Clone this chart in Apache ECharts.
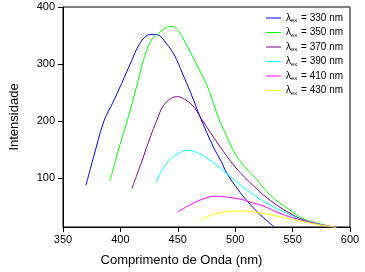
<!DOCTYPE html>
<html>
<head>
<meta charset="utf-8">
<script src="https://cdn.jsdelivr.net/npm/echarts@6/dist/echarts.min.js"></script>
<style>
  html, body { margin: 0; padding: 0; background: #fff; }
  #chart { width: 365px; height: 272px; }
</style>
</head>
<body>
<div id="chart"></div>
<script>
// excitation wavelengths (legend)
var excLabels = ['330', '350', '370', '390', '410', '430'];
var colors = ['#0000ff', '#00ff00', '#800080', '#00ffff', '#ff00ff', '#ffff00'];

// emission spectra
var wl330 = [370, 379, 386, 393, 401, 410, 416, 423, 428, 433, 440, 447, 454, 461, 470, 481, 488, 493, 503, 508, 520, 534];
var in330 = [88, 155, 202, 231, 266, 307, 333, 350, 352, 351, 336, 316, 284, 251, 205, 155, 129, 108, 79, 66, 40, 15];

var wl350 = [391, 399, 407, 414, 421, 427, 433, 437, 443, 447, 450, 457, 466, 476, 486, 493, 500, 508, 517, 531, 546, 560, 575, 588];
var in350 = [96, 155, 208, 260, 313, 342, 353, 360, 366, 365, 360, 336, 301, 260, 203, 172, 143, 121, 102, 70, 47, 29, 20, 14];

var wl370 = [410, 419, 426, 432, 437, 444, 450, 457, 464, 471, 486, 500, 517, 531, 546, 560, 575, 588];
var in370 = [82, 132, 172, 203, 226, 240, 243, 237, 225, 203, 158, 120, 85, 61, 41, 27, 19, 14];

var wl390 = [431, 440, 450, 459, 469, 480, 493, 503, 517, 531, 546, 560, 575, 588];
var in390 = [93, 126, 143, 149, 143, 129, 108, 91, 70, 53, 38, 26, 19, 14];

var wl410 = [450, 460, 472, 483, 494, 506, 517, 523, 540, 554, 570, 588];
var in410 = [41, 53, 64, 69, 67, 63, 56, 53, 38, 29, 21, 14];

var wl430 = [470, 483, 494, 506, 517, 534, 551, 570, 588];
var in430 = [28, 38, 42, 43, 41, 35, 28, 20, 14];

var xTicks = [350, 400, 450, 500, 550, 600];
var yTicks = [100, 200, 300, 400];

var wls = [wl330, wl350, wl370, wl390, wl410, wl430];
var ints = [in330, in350, in370, in390, in410, in430];

var series = [];
for (var i = 0; i < excLabels.length; i++) {
  var pts = [];
  for (var j = 0; j < wls[i].length; j++) {
    pts.push([wls[i][j], ints[i][j]]);
  }
  series.push({
    name: excLabels[i],
    type: 'line',
    data: pts,
    smooth: 0.4,
    symbol: 'none',
    clip: true,
    lineStyle: { color: colors[i], width: 1 },
    itemStyle: { color: colors[i] }
  });
}

var font = 'Liberation Sans, Arial, sans-serif';

var option = {
  animation: false,
  backgroundColor: '#fff',
  grid: {
    left: 58, right: 15, top: 7, bottom: 45,
    show: true, borderColor: '#000', borderWidth: 1
  },
  legend: {
    orient: 'vertical',
    left: 261,
    top: 8,
    icon: 'rect',
    itemWidth: 15,
    itemHeight: 1,
    itemGap: 4,
    data: excLabels,
    formatter: function (name) {
      return '{a|λ}{b|ex}{a| = ' + name + ' nm}';
    },
    textStyle: {
      fontFamily: font,
      color: '#000',
      rich: {
        a: { fontSize: 10, fontFamily: font, color: '#000' },
        b: { fontSize: 6, fontFamily: font, color: '#000', padding: [5, 1, 0, 0] }
      }
    }
  },
  xAxis: {
    type: 'value',
    min: 350, max: 600, interval: 50,
    name: 'Comprimento de Onda (nm)',
    nameLocation: 'middle',
    nameGap: 27,
    nameTextStyle: { fontFamily: font, fontSize: 13, color: '#000', padding: [0, 50, 0, 0] },
    axisLine: { lineStyle: { color: '#000', width: 1 } },
    axisTick: { show: true, inside: false, length: 5, lineStyle: { color: '#000' } },
    axisLabel: { fontFamily: font, fontSize: 11, color: '#000', margin: 7 },
    splitLine: { show: false }
  },
  yAxis: {
    type: 'value',
    min: 15, max: 400,
    name: 'Intensidade',
    nameLocation: 'middle',
    nameGap: 42,
    nameTextStyle: { fontFamily: font, fontSize: 13, color: '#000' },
    axisLine: { show: true, lineStyle: { color: '#000', width: 1 } },
    axisTick: { show: true, inside: false, length: 5, lineStyle: { color: '#000' }, customValues: yTicks },
    axisLabel: { fontFamily: font, fontSize: 11, color: '#000', margin: 8, customValues: yTicks },
    splitLine: { show: false }
  },
  series: series
};

var chart = echarts.init(document.getElementById('chart'), null, { renderer: 'canvas' });
chart.setOption(option);
</script>
</body>
</html>
